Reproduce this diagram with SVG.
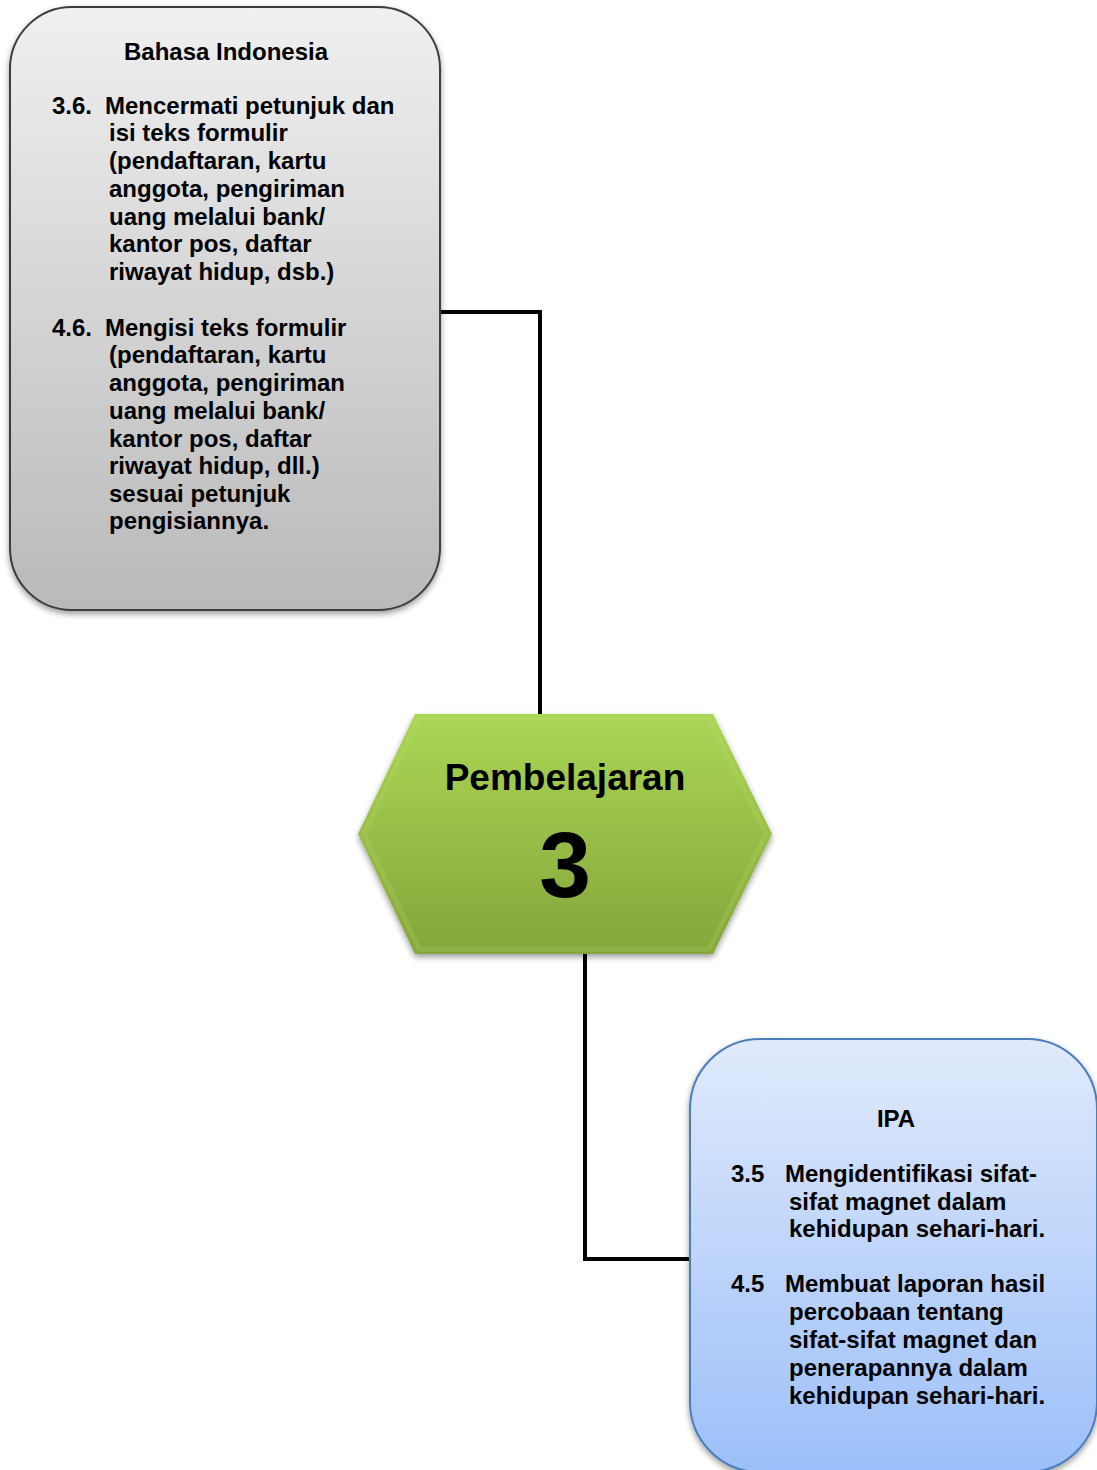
<svg xmlns="http://www.w3.org/2000/svg" width="1097" height="1470" viewBox="0 0 1097 1470">
  <defs>
    <linearGradient id="gGray" x1="0" y1="0" x2="0" y2="1">
      <stop offset="0" stop-color="#f0f0f0"/>
      <stop offset="1" stop-color="#b9b9b9"/>
    </linearGradient>
    <linearGradient id="gGreen" x1="0" y1="0" x2="0" y2="1">
      <stop offset="0" stop-color="#aad655"/>
      <stop offset="1" stop-color="#84a63a"/>
    </linearGradient>
    <linearGradient id="gBlue" x1="0" y1="0" x2="0" y2="1">
      <stop offset="0" stop-color="#e0eafb"/>
      <stop offset="1" stop-color="#9cbff9"/>
    </linearGradient>
    <filter id="shadow" x="-10%" y="-10%" width="120%" height="120%">
      <feGaussianBlur in="SourceAlpha" stdDeviation="3"/>
      <feOffset dx="0" dy="3" result="b"/>
      <feComponentTransfer><feFuncA type="linear" slope="0.4"/></feComponentTransfer>
      <feMerge><feMergeNode/><feMergeNode in="SourceGraphic"/></feMerge>
    </filter>
    <style>
      .t { font-family: "Liberation Sans", Arial, sans-serif; font-weight: bold; font-size: 24px; fill: #000; }
      .c { text-anchor: middle; }
      .conn { fill: none; stroke: #000; stroke-width: 4; }
    </style>
  </defs>

  <g id="connectors">
    <polyline class="conn" points="440,312 540,312 540,716"/>
    <polyline class="conn" points="585,952 585,1259 692,1259"/>
  </g>

  <g id="node-bahasa">
    <rect x="10" y="7" width="430" height="603" rx="62" ry="62" fill="url(#gGray)" stroke="#3c3c3c" stroke-width="2" filter="url(#shadow)"/>
    <text class="t c" x="226" y="60">Bahasa Indonesia</text>
    <text class="t" x="52" y="114">3.6.</text>
    <text class="t" x="105" y="114">Mencermati petunjuk dan</text>
    <text class="t" x="109" y="141">isi teks formulir</text>
    <text class="t" x="109" y="169">(pendaftaran, kartu</text>
    <text class="t" x="109" y="197">anggota, pengiriman</text>
    <text class="t" x="109" y="225">uang melalui bank/</text>
    <text class="t" x="109" y="252">kantor pos, daftar</text>
    <text class="t" x="109" y="280">riwayat hidup, dsb.)</text>
    <text class="t" x="52" y="336">4.6.</text>
    <text class="t" x="105" y="336">Mengisi teks formulir</text>
    <text class="t" x="109" y="363">(pendaftaran, kartu</text>
    <text class="t" x="109" y="391">anggota, pengiriman</text>
    <text class="t" x="109" y="419">uang melalui bank/</text>
    <text class="t" x="109" y="447">kantor pos, daftar</text>
    <text class="t" x="109" y="474">riwayat hidup, dll.)</text>
    <text class="t" x="109" y="502">sesuai petunjuk</text>
    <text class="t" x="109" y="529">pengisiannya.</text>
  </g>

  <g id="node-pembelajaran">
    <polygon points="415,714 713,714 772,834 713,954 415,954 358,834" fill="url(#gGreen)" filter="url(#shadow)"/>
    <polygon points="419,719 709,719 766,834 709,949 419,949 364,834" fill="none" stroke="#c4e47a" stroke-opacity="0.18" stroke-width="5"/>
    <text class="t c" x="565" y="790" style="font-size:37px">Pembelajaran</text>
    <text class="t c" x="565" y="897" style="font-size:93px">3</text>
  </g>

  <g id="node-ipa">
    <rect x="690" y="1039" width="407" height="433" rx="70" ry="70" fill="url(#gBlue)" stroke="#4a7ebb" stroke-width="2" filter="url(#shadow)"/>
    <text class="t c" x="896" y="1127">IPA</text>
    <text class="t" x="731" y="1182">3.5</text>
    <text class="t" x="785" y="1182">Mengidentifikasi sifat-</text>
    <text class="t" x="789" y="1210">sifat magnet dalam</text>
    <text class="t" x="789" y="1237">kehidupan sehari-hari.</text>
    <text class="t" x="731" y="1292">4.5</text>
    <text class="t" x="785" y="1292">Membuat laporan hasil</text>
    <text class="t" x="789" y="1320">percobaan tentang</text>
    <text class="t" x="789" y="1348">sifat-sifat magnet dan</text>
    <text class="t" x="789" y="1376">penerapannya dalam</text>
    <text class="t" x="789" y="1404">kehidupan sehari-hari.</text>
  </g>
</svg>
